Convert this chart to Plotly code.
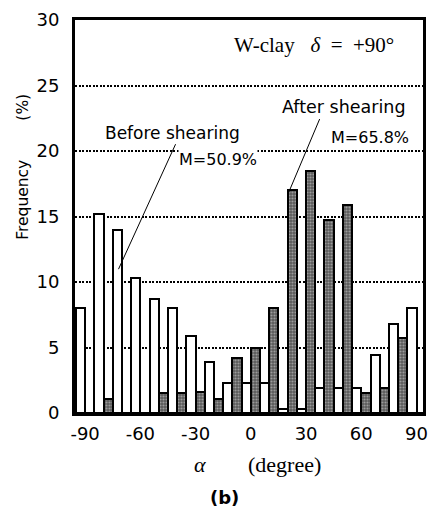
import plotly.graph_objects as go

alpha = [-90, -80, -70, -60, -50, -40, -30, -20, -10, 0, 10, 20, 30, 40, 50, 60, 70, 80, 90]
before = [8.0, 15.2, 14.0, 10.3, 8.7, 8.0, 5.9, 3.9, 2.3, 2.3, 2.3, 0.3, 0.3, 1.9, 1.9, 1.9, 4.4, 6.8, 8.0]
after = [0, 1.1, 0, 0, 1.5, 1.5, 1.6, 1.1, 4.2, 5.0, 8.0, 17.0, 18.5, 14.7, 15.9, 1.5, 1.9, 5.7, 0]
xticks = [-90, -60, -30, 0, 30, 60, 90]
yticks = [0, 5, 10, 15, 20, 25, 30]

SANS = "DejaVu Sans"
SERIF = "Liberation Serif"

fig = go.Figure()
fig.add_trace(go.Bar(x=alpha, y=before, name="Before shearing",
                     marker=dict(color="white", line=dict(color="black", width=2))))
fig.add_trace(go.Bar(x=alpha, y=after, name="After shearing",
                     marker=dict(color="#6e6e6e", line=dict(color="black", width=2),
                                 pattern=dict(shape=".", fgcolor="#dcdcdc", bgcolor="#5a5a5a",
                                              size=3, solidity=0.4))))

fig.update_layout(
    width=434, height=511,
    margin=dict(l=75, r=6, t=20, b=98),
    paper_bgcolor="white", plot_bgcolor="white",
    barmode="group", bargap=0, bargroupgap=0,
    showlegend=False,
    font=dict(family=SANS, color="black"),
)
fig.update_xaxes(range=[-95.5, 93.5], tickvals=xticks, ticktext=[str(v) for v in xticks],
                 showgrid=False, zeroline=False, showline=True, linecolor="black",
                 linewidth=3, mirror=True, ticks="", tickfont=dict(size=18, family=SANS),
                 ticklabelstandoff=2)
fig.update_yaxes(range=[0, 30], tickvals=yticks, showgrid=True, gridcolor="black",
                 gridwidth=1.5, griddash="2px,1.5px", zeroline=False, showline=True,
                 linecolor="black", linewidth=3, mirror=True, ticks="",
                 tickfont=dict(size=18, family=SANS), ticklabelstandoff=9)

def ann(text, x, y, size, family=SANS, angle=0, bg=None):
    fig.add_annotation(text=text, x=x, y=y, xref="paper", yref="paper", showarrow=False,
                       font=dict(size=size, family=family, color="black"), textangle=angle,
                       xanchor="center", yanchor="middle",
                       bgcolor=bg if bg else "rgba(0,0,0,0)", borderpad=0)

ann("W-clay&nbsp;&nbsp;&nbsp;<i>δ</i>&nbsp;&nbsp;=&nbsp;&nbsp;+90°", 0.687, 0.936, 21, SERIF)
ann("Before shearing", 0.280, 0.712, 17)
ann("M=50.9%", 0.412, 0.644, 16, bg="white")
ann("After shearing", 0.772, 0.779, 17.5)
ann("M=65.8%", 0.847, 0.702, 16)
ann("<i>α</i>", 0.360, -0.130, 22, SERIF)
ann("(degree)", 0.601, -0.130, 22, SERIF)
ann("<b>(b)</b>", 0.431, -0.214, 18)
ann("Frequency", -0.150, 0.542, 15.5, angle=-90)
ann("(%)", -0.150, 0.779, 15.5, angle=-90)

fig.add_shape(type="line", xref="paper", yref="paper", x0=0.289, y0=0.684, x1=0.125, y1=0.366,
              line=dict(color="black", width=1))
fig.add_shape(type="line", xref="paper", yref="paper", x0=0.703, y0=0.748, x1=0.612, y1=0.557,
              line=dict(color="black", width=1))

fig.write_html("out.html")
